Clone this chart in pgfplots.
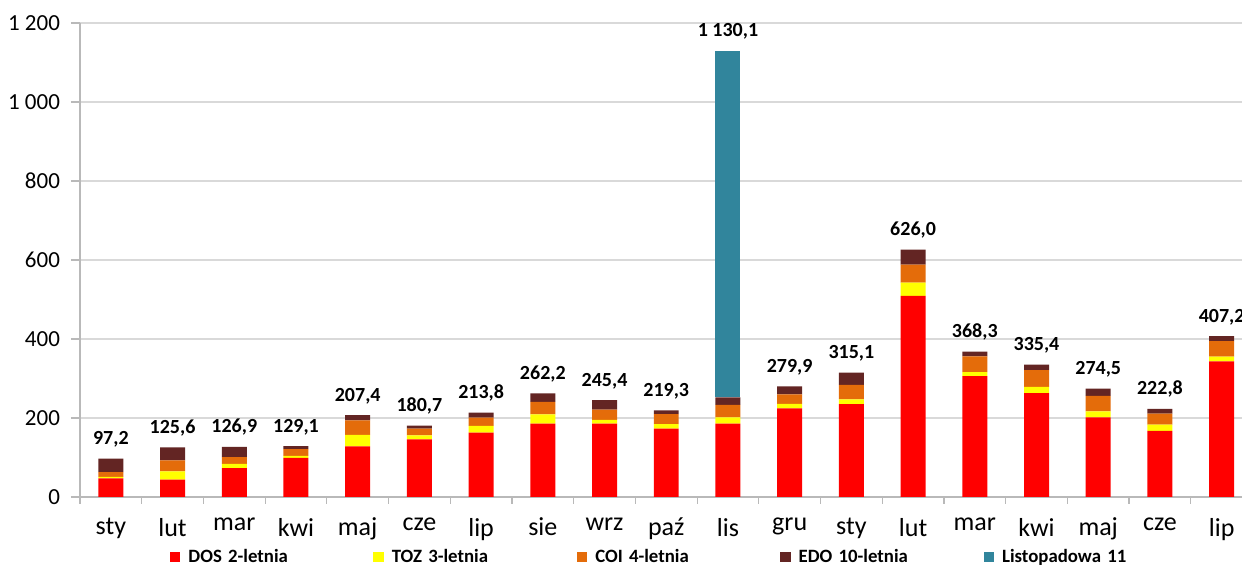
\documentclass[border=0pt]{standalone}
\usepackage{fontspec}
\setmainfont{Carlito}
\usepackage{pgfplots}
\usepackage{pgfplotstable}
\pgfplotsset{compat=1.18}

\definecolor{cDOS}{HTML}{FF0000}
\definecolor{cTOZ}{HTML}{FFFF00}
\definecolor{cCOI}{HTML}{E46C0A}
\definecolor{cEDO}{HTML}{632523}
\definecolor{cLIS}{HTML}{31859C}

\pgfplotstableread{
x DOS TOZ COI EDO LIS total
0 47 4 12 34.2 0 97.2
1 44 21 28 32.6 0 125.6
2 73 11 17 25.9 0 126.9
3 99 5 17 8.1 0 129.1
4 128 29.5 36.5 13.4 0 207.4
5 146 10 17 7.7 0 180.7
6 163 17 21 12.8 0 213.8
7 186 23 32 21.2 0 262.2
8 186 9 26 24.4 0 245.4
9 173 11.5 25.5 9.3 0 219.3
10 186 15.5 31.5 19.5 877.6 1130.1
11 224.5 11 24.5 19.9 0 279.9
12 235 12 37 31.1 0 315.1
13 509 34 45 38 0 626.0
14 306 10 40 12.3 0 368.3
15 263 16 42.5 13.9 0 335.4
16 201.5 15.5 39 18.5 0 274.5
17 167.5 15.5 28 11.8 0 222.8
18 343.5 12 39 12.7 0 407.2
}\data

\pgfplotsset{common/.style={
  scale only axis,
  width=581pt, height=237pt,
  xmin=-0.5, xmax=18.33, ymin=0, ymax=1200,
}}

\begin{document}
\begin{tikzpicture}
\begin{axis}[
  common,
  ybar stacked, bar width=0.405,
  clip=false,
  axis x line*=bottom, axis y line*=left,
  axis line style={draw=gray!55, line width=0.6pt},
  ymajorgrids, grid style={draw=gray!30, line width=0.6pt},
  ytick={0,200,...,1200},
  yticklabels={0,200,400,600,800,1\ 000,1\ 200},
  xtick={0,...,18},
  xticklabels={sty,lut,mar,kwi,maj,cze,lip,sie,wrz,paź,lis,gru,sty,lut,mar,kwi,maj,cze,lip},
  minor xtick={-0.5,0.5,...,17.5},
  tick align=outside,
  major tick length=4.5pt, minor tick length=3.5pt,
  major x tick style={draw=none},
  minor x tick style={draw=gray!55, line width=0.6pt},
  major y tick style={draw=gray!55, line width=0.6pt},
  yticklabel style={font=\fontsize{11.5}{13}\selectfont, xshift=-2pt},
  xticklabel style={font=\fontsize{13}{15}\selectfont, yshift=-2.5pt},
  legend style={at={(0.072,-0.1266)}, anchor=west, draw=none, fill=none,
    legend columns=5, font=\bfseries\fontsize{9.4}{11}\selectfont,
    nodes={text width=88.5pt, align=left, inner xsep=4pt, inner ysep=1pt}},
  legend image code/.code={\draw[#1,draw=none] (0pt,-2.7pt) rectangle (5.2pt,2.7pt);},
]
\addplot[fill=cDOS, draw=none] table[x=x, y=DOS]{\data};
\addlegendentry{DOS 2-letnia}
\addplot[fill=cTOZ, draw=none] table[x=x, y=TOZ]{\data};
\addlegendentry{TOZ 3-letnia}
\addplot[fill=cCOI, draw=none] table[x=x, y=COI]{\data};
\addlegendentry{COI 4-letnia}
\addplot[fill=cEDO, draw=none] table[x=x, y=EDO]{\data};
\addlegendentry{EDO 10-letnia}
\addplot[fill=cLIS, draw=none] table[x=x, y=LIS]{\data};
\addlegendentry{Listopadowa 11}
\end{axis}
\begin{axis}[
  common, hide axis, clip=false,
]
\addplot[draw=none, mark=none, point meta=explicit,
  nodes near coords={\pgfmathprintnumber[fixed,fixed zerofill,precision=1,use comma,1000 sep={\ },assume math mode=true]{\pgfplotspointmeta}},
  every node near coord/.append style={font=\bfseries\fontsize{10}{12}\selectfont, anchor=base, yshift=7pt, text=black}
  ] table[x=x, y=total, meta=total]{\data};
\end{axis}
\pgfresetboundingbox
\path[use as bounding box] ([shift={(-40pt,-35pt)}]current axis.south west) rectangle ([shift={(0pt,11.5pt)}]current axis.north east);
\end{tikzpicture}
\end{document}
